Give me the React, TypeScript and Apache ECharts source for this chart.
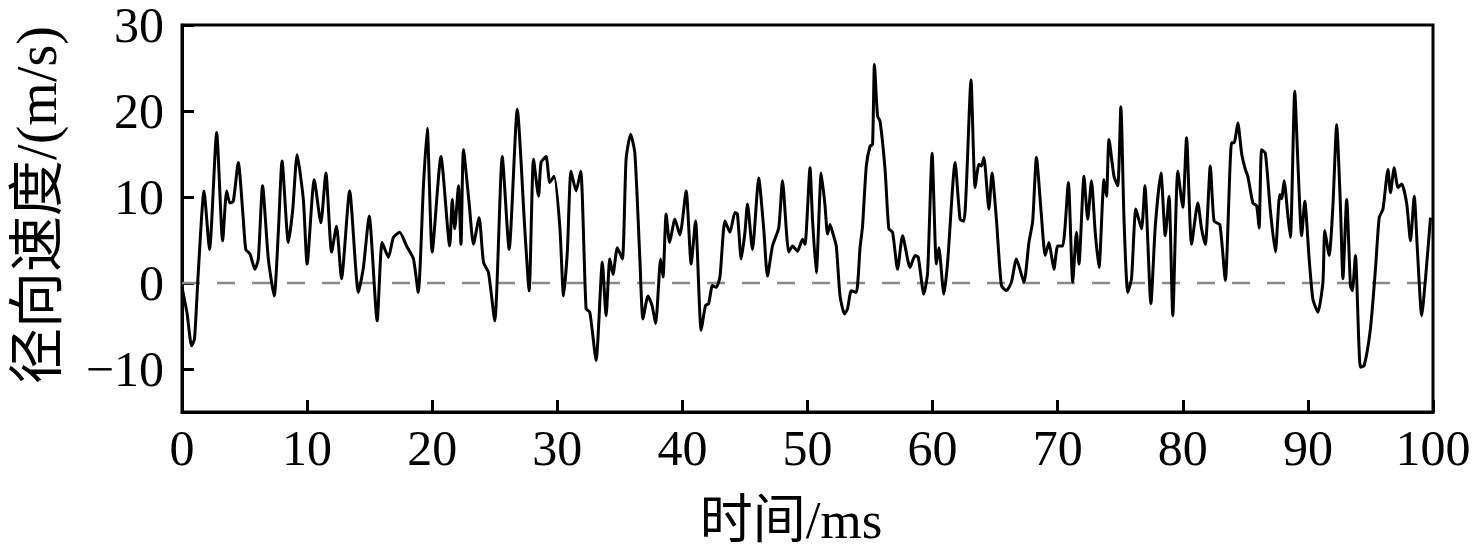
import React, { useEffect, useRef } from "react";
import * as echarts from "echarts";

const timeMs: number[] = [
  0.0, 0.4, 0.77, 1.0, 1.3, 1.76, 2.2, 2.77, 3.25, 3.57, 3.83, 4.1, 4.5, 4.9, 5.1, 5.43, 5.83, 6.1, 6.44, 6.9,
  7.37, 7.7, 8.0, 8.5, 8.85, 9.2, 9.7, 10.0, 10.57, 11.1, 11.5, 11.96, 12.35, 12.75, 13.4, 14.1, 14.5, 14.96, 15.6, 16.0,
  16.5, 16.9, 17.4, 17.95, 18.5, 18.88, 19.3, 19.6, 20.0, 20.7, 21.4, 21.6, 21.8, 22.1, 22.3, 22.5, 22.95, 23.3, 23.75, 24.1,
  24.5, 25.0, 25.6, 26.15, 26.8, 27.4, 27.75, 28.1, 28.5, 28.7, 29.1, 29.4, 29.75, 30.2, 30.5, 30.8, 31.1, 31.5, 31.87, 32.3,
  32.6, 33.1, 33.6, 33.9, 34.2, 34.45, 34.8, 35.2, 35.5, 35.86, 36.2, 36.6, 36.85, 37.25, 37.57, 37.86, 38.26, 38.45, 38.7, 38.98,
  39.4, 39.8, 40.3, 40.7, 41.05, 41.5, 41.85, 42.1, 42.4, 42.7, 43.0, 43.4, 43.8, 44.2, 44.4, 44.7, 45.0, 45.2, 45.6, 46.1,
  46.5, 46.8, 47.2, 47.7, 48.0, 48.5, 48.8, 49.2, 49.6, 49.8, 50.2, 50.4, 50.7, 51.1, 51.4, 51.6, 51.8, 52.0, 52.3, 52.6,
  52.96, 53.2, 53.5, 53.9, 54.2, 54.4, 54.7, 55.0, 55.2, 55.35, 55.6, 55.8, 56.2, 56.5, 56.8, 57.2, 57.6, 58.2, 58.6, 58.85,
  59.3, 59.6, 59.96, 60.3, 60.5, 60.9, 61.2, 61.8, 62.2, 62.5, 62.7, 63.07, 63.4, 63.7, 63.9, 64.1, 64.5, 64.75, 65.1, 65.5,
  65.9, 66.3, 66.7, 67.3, 67.7, 68.0, 68.3, 68.7, 69.0, 69.3, 69.5, 69.7, 70.0, 70.4, 70.85, 71.2, 71.5, 71.7, 72.1, 72.4,
  72.7, 73.0, 73.3, 73.7, 73.9, 74.1, 74.5, 74.8, 75.05, 75.3, 75.6, 75.9, 76.25, 76.7, 76.97, 77.45, 77.8, 78.25, 78.6, 78.9,
  79.2, 79.6, 80.0, 80.3, 80.7, 81.2, 81.5, 81.8, 82.2, 82.5, 82.96, 83.4, 83.9, 84.1, 84.4, 84.7, 85.0, 85.2, 85.6, 85.9,
  86.1, 86.3, 86.6, 87.0, 87.4, 87.75, 87.9, 88.1, 88.4, 88.6, 88.95, 89.2, 89.5, 89.75, 90.1, 90.4, 90.8, 91.2, 91.35, 91.7,
  92.0, 92.3, 92.6, 92.8, 93.1, 93.4, 93.55, 93.8, 94.2, 94.5, 95.0, 95.4, 95.7, 96.0, 96.4, 96.6, 96.9, 97.2, 97.5, 97.9,
  98.2, 98.5, 98.75, 99.1, 99.4, 99.8,
];

const radialVelocity: number[] = [
  -0.5, -3.5, -7.3, -6.5, 1.2, 10.7, 3.9, 17.5, 4.9, 10.7, 9.3, 9.5, 14.0, 7.4, 3.9, 3.4, 1.6, 2.8, 11.3, 2.8,
  -1.5, 5.9, 14.2, 4.7, 8.5, 14.9, 9.7, 2.2, 12.0, 7.0, 12.8, 3.6, 6.6, 0.5, 10.7, -1.1, 1.8, 7.8, -4.4, 4.7,
  3.0, 5.3, 5.9, 4.3, 2.8, -1.1, 11.3, 18.0, 3.6, 14.7, 4.3, 9.7, 6.3, 11.3, 4.5, 15.5, 9.3, 4.5, 7.6, 2.4,
  1.2, -4.4, 14.7, 3.9, 20.2, 6.3, -0.9, 14.4, 10.1, 14.0, 14.7, 11.7, 12.4, 6.6, -1.5, 3.6, 13.0, 10.7, 13.0, -3.0,
  -3.4, -9.0, 2.4, -3.8, 2.8, 1.0, 4.1, 2.8, 14.4, 17.3, 15.1, 2.8, -4.2, -1.5, -2.6, -4.7, 2.8, 0.7, 8.0, 4.7,
  7.4, 5.6, 10.7, 2.2, 7.2, -5.5, -2.6, -2.4, -0.3, -0.5, 0.7, 7.2, 5.9, 8.2, 8.0, 2.8, 5.9, 9.2, 3.9, 12.2,
  6.3, 0.8, 4.3, 6.4, 11.9, 3.6, 4.3, 3.7, 5.1, 4.5, 13.4, 7.4, 1.2, 12.8, 9.0, 5.7, 6.8, 5.9, 4.3, -1.5,
  -3.6, -3.0, -0.9, -1.1, 4.1, 6.6, 13.6, 15.9, 16.1, 25.4, 19.4, 18.8, 13.2, 6.3, 5.9, 1.6, 5.5, 1.8, 3.2, 3.0,
  -1.3, 1.2, 15.1, 2.2, 4.1, -1.3, 2.4, 14.0, 7.4, 7.2, 11.3, 23.6, 11.1, 13.8, 13.6, 14.6, 8.6, 12.8, 7.4, -0.3,
  -0.9, 0.1, 2.8, 0.1, 4.7, 7.2, 14.6, 7.8, 3.2, 4.7, 3.2, 1.6, 4.3, 4.3, 11.7, 0.1, 5.9, 2.2, 12.4, 7.4,
  11.9, 5.9, 1.8, 12.0, 10.1, 16.7, 12.4, 11.3, 20.5, 7.4, -1.1, 0.5, 8.6, 6.3, 11.3, -2.4, 6.6, 12.8, 5.5, 10.1,
  -3.8, 13.0, 8.8, 16.9, 4.5, 9.3, 6.3, 4.5, 13.6, 7.2, 6.8, 0.3, 16.3, 16.3, 18.6, 15.1, 13.2, 12.4, 9.3, 9.0,
  6.4, 15.5, 15.1, 8.4, 3.6, 10.3, 9.8, 11.9, 7.8, 5.3, 22.3, 14.0, 5.5, 9.5, 2.8, -1.9, -3.4, 0.1, 6.1, 3.2,
  9.0, 18.4, 9.0, 0.5, 9.7, -0.3, -0.9, 3.2, -9.8, -9.6, -5.3, 1.6, 7.6, 8.6, 13.2, 10.5, 13.4, 11.1, 11.5, 9.2,
  4.9, 10.1, 3.9, -3.8, 0.5, 7.6,
];

const yTicks: number[] = [-10, 0, 10, 20, 30];
const xAxisName = "时间/ms";
const yAxisName = "径向速度/(m/s)";

const LATIN = '"Liberation Serif", "Times New Roman", "Noto Sans CJK SC", serif';
const CJK = '"Liberation Serif", "Noto Sans CJK SC", serif';

export default function App() {
  const ref = useRef<HTMLDivElement>(null);
  useEffect(() => {
    if (!ref.current) return;
    const chart = echarts.init(ref.current, undefined, { renderer: "svg" });
    const data = timeMs.map((t, i) => [t, radialVelocity[i]]);
    chart.setOption({
      animation: false,
      backgroundColor: "#ffffff",
      grid: {
        left: 182,
        right: 43,
        top: 25,
        bottom: 142,
        show: true,
        borderColor: "#000",
        borderWidth: 3,
        backgroundColor: "transparent",
      },
      xAxis: {
        type: "value",
        min: 0,
        max: 100,
        interval: 10,
        axisLine: { show: true, onZero: false, lineStyle: { color: "#000", width: 3 } },
        axisTick: { show: true, inside: true, length: 12, lineStyle: { color: "#000", width: 3 } },
        axisLabel: { color: "#000", fontSize: 50, lineHeight: 44, fontFamily: LATIN, margin: 14 },
        splitLine: { show: false },
      },
      yAxis: {
        type: "value",
        min: -15,
        max: 30,
        axisLine: { show: true, onZero: false, lineStyle: { color: "#000", width: 3 } },
        axisTick: {
          show: true,
          inside: true,
          length: 12,
          customValues: yTicks,
          lineStyle: { color: "#000", width: 3 },
        },
        axisLabel: {
          color: "#000",
          fontSize: 50,
          lineHeight: 44,
          fontFamily: LATIN,
          margin: 18,
          customValues: yTicks,
          formatter: (v: number) => String(v).replace("-", "\u2212"),
        },
        splitLine: { show: false },
      },
      graphic: [
        {
          type: "text",
          x: 791,
          y: 520,
          style: {
            text: xAxisName,
            font: `53px ${CJK}`,
            fill: "#000",
            textAlign: "center",
            textVerticalAlign: "middle",
          },
        },
        {
          type: "text",
          x: 37,
          y: 205,
          rotation: Math.PI / 2,
          style: {
            text: yAxisName,
            font: `56px ${CJK}`,
            fill: "#000",
            textAlign: "center",
            textVerticalAlign: "middle",
          },
        },
      ],
      series: [
        {
          type: "line",
          data,
          showSymbol: false,
          smooth: 0.2,
          lineStyle: { color: "#000", width: 3 },
          z: 3,
          markLine: {
            silent: true,
            symbol: "none",
            label: { show: false },
            lineStyle: { color: "#888", width: 2.4, type: [18, 17] },
            data: [{ yAxis: 0 }],
            z: 2,
          },
        },
      ],
    });
    return () => chart.dispose();
  }, []);
  return (
    <div
      ref={ref}
      style={{ position: "fixed", left: 0, top: 0, width: 1476, height: 554, background: "#fff" }}
    />
  );
}
